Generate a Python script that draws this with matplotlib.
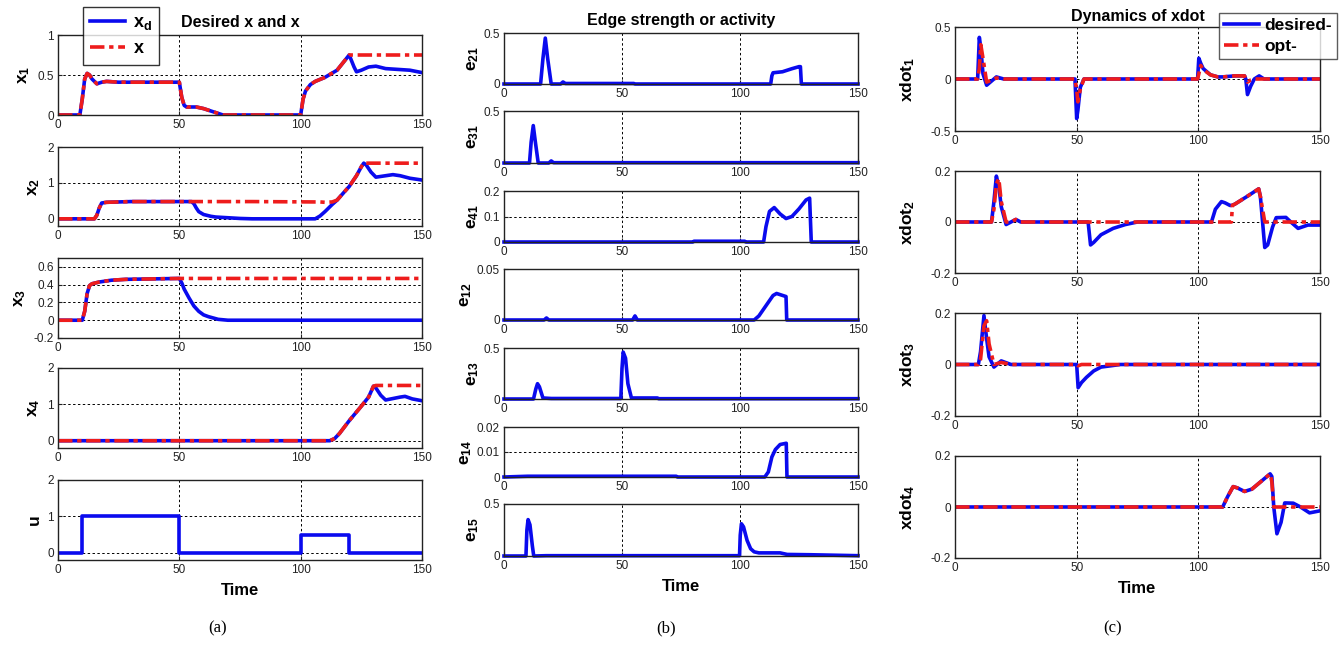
import matplotlib
matplotlib.use("Agg")
import matplotlib.pyplot as plt

plt.rcParams['font.family'] = ['Liberation Sans', 'DejaVu Sans']
plt.rcParams['mathtext.fontset'] = 'custom'
plt.rcParams['mathtext.bf'] = 'Liberation Sans:bold'
plt.rcParams['mathtext.rm'] = 'Liberation Sans'
plt.rcParams['mathtext.it'] = 'Liberation Sans:italic'

# ---------------- data: column (a) ----------------
x1_t = [0, 9, 10, 11, 12, 13, 14, 16, 18, 20, 25, 50, 51, 52, 53, 57, 60, 65, 68, 100, 101, 102, 104, 106, 110, 115, 120, 122, 123, 125, 128, 131, 135, 140, 145, 150]
x1_d = [0, 0, 0.2, 0.45, 0.52, 0.5, 0.45, 0.39, 0.41, 0.42, 0.41, 0.41, 0.22, 0.12, 0.1, 0.1, 0.08, 0.03, 0.0, 0, 0.2, 0.3, 0.38, 0.42, 0.47, 0.56, 0.75, 0.6, 0.54, 0.56, 0.6, 0.61, 0.58, 0.57, 0.56, 0.53]
x1_o = [0, 0, 0.2, 0.45, 0.52, 0.5, 0.45, 0.39, 0.41, 0.42, 0.41, 0.41, 0.22, 0.12, 0.1, 0.1, 0.08, 0.03, 0.0, 0, 0.2, 0.3, 0.38, 0.42, 0.47, 0.56, 0.75, 0.75, 0.75, 0.75, 0.75, 0.75, 0.75, 0.75, 0.75, 0.75]

x2_t = [0, 15, 16, 17, 18, 20, 25, 30, 55, 56, 57, 58, 60, 63, 65, 70, 75, 80, 106, 108, 110, 113, 115, 118, 120, 123, 125, 126, 127, 129, 131, 135, 138, 141, 145, 150]
x2_d = [0, 0, 0.1, 0.3, 0.44, 0.46, 0.47, 0.48, 0.48, 0.42, 0.3, 0.2, 0.12, 0.07, 0.05, 0.03, 0.01, 0.0, 0.0, 0.08, 0.2, 0.4, 0.52, 0.75, 0.9, 1.2, 1.45, 1.55, 1.5, 1.3, 1.16, 1.2, 1.23, 1.2, 1.13, 1.08]
x2_o = [0, 0, 0.1, 0.3, 0.44, 0.46, 0.47, 0.48, 0.48, 0.48, 0.48, 0.48, 0.48, 0.48, 0.48, 0.48, 0.48, 0.48, 0.47, 0.47, 0.46, 0.47, 0.52, 0.75, 0.9, 1.2, 1.45, 1.55, 1.55, 1.55, 1.55, 1.55, 1.55, 1.55, 1.55, 1.55]

x3_t = [0, 10, 11, 12, 13, 14, 17, 22, 28, 50, 51, 52, 54, 56, 58, 60, 62, 66, 70, 150]
x3_d = [0, 0, 0.1, 0.3, 0.39, 0.41, 0.43, 0.45, 0.46, 0.47, 0.42, 0.35, 0.25, 0.16, 0.1, 0.06, 0.04, 0.01, 0, 0]
x3_o = [0, 0, 0.1, 0.3, 0.39, 0.41, 0.43, 0.45, 0.46, 0.47, 0.47, 0.47, 0.47, 0.47, 0.47, 0.47, 0.47, 0.47, 0.47, 0.47]

x4_t = [0, 110, 112, 114, 116, 120, 125, 128, 130, 131, 133, 135, 138, 141, 143, 146, 150]
x4_d = [0, 0, 0, 0.06, 0.2, 0.55, 0.95, 1.2, 1.5, 1.45, 1.25, 1.12, 1.16, 1.2, 1.22, 1.15, 1.1]
x4_o = [0, 0, 0, 0.06, 0.2, 0.55, 0.95, 1.2, 1.5, 1.52, 1.52, 1.52, 1.52, 1.52, 1.52, 1.52, 1.52]

u_t = [0, 10, 50, 100, 120, 150]
u_v = [0, 1, 0, 0.5, 0, 0]

# ---------------- data: column (b) ----------------
e21_t = [0, 15.5, 16.5, 17.5, 18.5, 20, 24, 25, 26, 55, 55.5, 113, 113.5, 114, 118, 122, 125, 125.6, 126, 150]
e21_v = [0, 0, 0.25, 0.45, 0.25, 0, 0, 0.02, 0.005, 0.005, 0, 0, 0.08, 0.11, 0.12, 0.15, 0.17, 0.17, 0, 0]

e31_t = [0, 10.8, 11.5, 12.4, 13.3, 14.5, 19, 20, 21, 150]
e31_v = [0, 0, 0.2, 0.36, 0.2, 0, 0, 0.02, 0.003, 0.003]

e41_t = [0, 80, 80.5, 102, 102.5, 110, 111, 112.5, 114.5, 117, 119.5, 122, 125, 128, 129.5, 130.2, 150]
e41_v = [0, 0, 0.003, 0.003, 0, 0, 0.06, 0.12, 0.135, 0.11, 0.092, 0.1, 0.13, 0.165, 0.172, 0, 0]

e12_t = [0, 17, 18, 19, 54.5, 55.5, 56.5, 106, 108, 111, 114, 115.5, 119.5, 119.8, 150]
e12_v = [0, 0, 0.002, 0, 0, 0.004, 0, 0, 0.004, 0.014, 0.024, 0.026, 0.023, 0, 0]

e13_t = [0, 12.5, 13.5, 14.2, 15, 16.5, 20, 49.5, 50, 50.5, 51.5, 52.5, 54, 57, 65, 65.5, 150]
e13_v = [0, 0, 0.1, 0.15, 0.12, 0.01, 0.005, 0.005, 0.3, 0.46, 0.4, 0.15, 0.01, 0.01, 0.01, 0.003, 0.003]

e14_t = [0, 10, 73, 73.5, 110.5, 112, 113.5, 115, 117, 119.6, 119.9, 150]
e14_v = [0, 0.0003, 0.0003, 0, 0, 0.002, 0.008, 0.011, 0.013, 0.0135, 0, 0]

e15_t = [0, 9.3, 9.7, 10.2, 11, 12, 12.6, 18, 99.8, 100.1, 100.6, 101.5, 103, 104.5, 106, 108, 117, 120, 130, 150]
e15_v = [0, 0, 0.25, 0.35, 0.3, 0.1, 0, 0.003, 0.003, 0.2, 0.31, 0.28, 0.15, 0.07, 0.04, 0.03, 0.03, 0.015, 0.012, 0.003]

# ---------------- data: column (c) ----------------
xd1_t = [0, 9.3, 10, 10.6, 11.5, 13, 15, 17, 20, 49.3, 50, 50.5, 51.5, 53, 99.7, 100.2, 101, 102, 105, 108, 110, 115, 119, 119.5, 120.2, 121.5, 123, 125, 127, 150]
xd1_d = [0, 0, 0.4, 0.3, 0.05, -0.06, -0.02, 0.02, 0, 0, -0.38, -0.3, -0.08, 0, 0, 0.2, 0.15, 0.1, 0.04, 0.02, 0.02, 0.03, 0.03, 0.0, -0.15, -0.07, 0.0, 0.03, 0.0, 0]
xd1_o = [0, 0, 0.1, 0.33, 0.2, -0.03, -0.01, 0.01, 0, 0, -0.1, -0.22, -0.1, 0, 0, 0.05, 0.13, 0.09, 0.04, 0.02, 0.02, 0.03, 0.03, 0.0, -0.03, -0.01, 0.0, 0.0, 0.0, 0]

xd2_t = [0, 15, 16, 17, 18, 19, 21, 23, 25, 27, 54.7, 55.7, 57, 60, 65, 70, 75, 105.4, 107, 109.5, 111, 113, 113.6, 114, 115, 120, 124.8, 125.5, 127.3, 128.5, 130.5, 132, 136, 138, 141, 145, 150]
xd2_d = [0, 0, 0.08, 0.18, 0.14, 0.06, -0.01, 0.0, 0.01, 0, 0, -0.09, -0.08, -0.05, -0.025, -0.01, 0, 0, 0.05, 0.08, 0.075, 0.065, 0.065, 0.066, 0.07, 0.1, 0.13, 0.1, -0.1, -0.09, -0.02, 0.017, 0.018, 0.0, -0.025, -0.012, -0.012]
xd2_o = [0, 0, 0.05, 0.15, 0.17, 0.08, 0.0, 0.0, 0.01, 0, 0, 0, 0, 0, 0, 0, 0, 0, 0, 0, 0, 0, 0.0, 0.066, 0.07, 0.1, 0.13, 0.1, 0.0, 0, 0, 0, 0, 0, 0, 0, 0]

xd3_t = [0, 9.6, 10.5, 11.9, 13, 14, 16, 19, 23, 50, 50.6, 52, 54, 57, 60, 64, 68, 150]
xd3_d = [0, 0, 0.05, 0.19, 0.1, 0.03, -0.01, 0.014, 0, 0, -0.09, -0.07, -0.05, -0.025, -0.01, -0.005, 0, 0]
xd3_o = [0, 0, 0.02, 0.15, 0.17, 0.08, 0.0, 0.008, 0, 0, -0.005, 0, 0, 0, 0, 0, 0, 0]

xd4_t = [0, 110, 112, 114.3, 116, 119, 122, 127, 129.5, 130.2, 131, 132.3, 134, 135.5, 139, 142, 145.7, 150]
xd4_d = [0, 0, 0.04, 0.08, 0.075, 0.061, 0.07, 0.11, 0.13, 0.12, 0.0, -0.105, -0.06, 0.016, 0.015, 0.0, -0.023, -0.015]
xd4_o = [0, 0, 0.04, 0.08, 0.075, 0.061, 0.07, 0.11, 0.13, 0.1, 0.0, 0, 0, 0, 0, 0, 0, 0]

xticks = [0, 50, 100, 150]

# ---------------- figure ----------------
W, H = 1343, 645
fig = plt.figure(figsize=(W / 100, H / 100), dpi=100)

BLUE = '#0a0aee'
RED = '#ee1c1c'
LW = 2.6
DASH = (4.0, 1.3, 1.2, 1.3)


def make_ax(l, r, t, b):
    ax = fig.add_axes([l / W, 1 - b / H, (r - l) / W, (b - t) / H])
    ax.set_xlim(0, 150)
    ax.set_xticks(xticks)
    ax.tick_params(direction='in', length=3, labelsize=8.5, pad=3, colors='#222222')
    ax.grid(True, color='black', linestyle=(0, (2.5, 2.5)), linewidth=0.7)
    ax.set_axisbelow(True)
    for s in ax.spines.values():
        s.set_linewidth(1.0)
        s.set_color('#222222')
    return ax


def ylab(ax, text, pad=4):
    ax.set_ylabel(text, fontsize=12.5, fontweight='bold', labelpad=pad)


# column (a)
la, ra = 58, 422
a_rows = [(35, 115), (147, 226), (258, 338), (368, 448), (480, 560)]
a_data = [(x1_t, x1_d, x1_o, (0, 1), [0, 0.5, 1], r'$\mathbf{x_1}$'),
          (x2_t, x2_d, x2_o, (-0.2, 2), [0, 1, 2], r'$\mathbf{x_2}$'),
          (x3_t, x3_d, x3_o, (-0.2, 0.7), [-0.2, 0, 0.2, 0.4, 0.6], r'$\mathbf{x_3}$'),
          (x4_t, x4_d, x4_o, (-0.2, 2), [0, 1, 2], r'$\mathbf{x_4}$')]
axes_a = []
for (t, b), (tt, dd, oo, yl, yt, lab) in zip(a_rows[:4], a_data):
    ax = make_ax(la, ra, t, b)
    hd, = ax.plot(tt, dd, color=BLUE, lw=LW, solid_joinstyle='round')
    ho, = ax.plot(tt, oo, color=RED, lw=LW, dashes=DASH)
    ax.set_ylim(*yl)
    ax.set_yticks(yt)
    ax.set_yticklabels([('%g' % v) for v in yt])
    ylab(ax, lab)
    axes_a.append((ax, hd, ho))
ax = make_ax(la, ra, *a_rows[4])
ax.plot(u_t, u_v, color=BLUE, lw=LW, drawstyle='steps-post')
ax.set_ylim(-0.2, 2)
ax.set_yticks([0, 1, 2])
ylab(ax, 'u')
ax.set_xlabel('Time', fontsize=12, fontweight='bold', labelpad=5)

ax0, hd0, ho0 = axes_a[0]
ax0.set_title('Desired x and x', fontsize=11.5, fontweight='bold', pad=6)
leg = ax0.legend([hd0, ho0], [r'$\mathbf{x_d}$', r'$\mathbf{x}$'], loc='upper left',
                 bbox_to_anchor=(83 / W, 1 - 7 / H), bbox_transform=fig.transFigure,
                 fontsize=13, frameon=True, fancybox=False, handlelength=1.9,
                 borderpad=0.4, labelspacing=0.45, handletextpad=0.45, borderaxespad=0)
leg.get_frame().set_edgecolor('black')
leg.get_frame().set_linewidth(1.0)

# column (b)
lb, rb = 504, 858
b_rows = [(33, 84), (111, 163), (191, 242), (269, 320), (348, 399), (427, 477), (504, 556)]
b_data = [(e21_t, e21_v, (0, 0.5), [0, 0.5], r'$\mathbf{e_{21}}$'),
          (e31_t, e31_v, (0, 0.5), [0, 0.5], r'$\mathbf{e_{31}}$'),
          (e41_t, e41_v, (0, 0.2), [0, 0.1, 0.2], r'$\mathbf{e_{41}}$'),
          (e12_t, e12_v, (0, 0.05), [0, 0.05], r'$\mathbf{e_{12}}$'),
          (e13_t, e13_v, (0, 0.5), [0, 0.5], r'$\mathbf{e_{13}}$'),
          (e14_t, e14_v, (0, 0.02), [0, 0.01, 0.02], r'$\mathbf{e_{14}}$'),
          (e15_t, e15_v, (0, 0.5), [0, 0.5], r'$\mathbf{e_{15}}$')]
for i, ((t, b), (tt, vv, yl, yt, lab)) in enumerate(zip(b_rows, b_data)):
    ax = make_ax(lb, rb, t, b)
    ax.plot(tt, vv, color=BLUE, lw=LW, clip_on=False)
    ax.set_ylim(*yl)
    ax.set_yticks(yt)
    ax.set_yticklabels([('%g' % v) for v in yt])
    ylab(ax, lab, pad=2)
    if i == 0:
        ax.set_title('Edge strength or activity', fontsize=11.5, fontweight='bold', pad=6)
    if i == len(b_rows) - 1:
        ax.set_xlabel('Time', fontsize=12, fontweight='bold', labelpad=5)

# column (c)
lc, rc = 955, 1320
c_rows = [(27, 131), (171, 273), (313, 416), (456, 558)]
c_data = [(xd1_t, xd1_d, xd1_o, (-0.5, 0.5), [-0.5, 0, 0.5], r'$\mathbf{xdot_1}$'),
          (xd2_t, xd2_d, xd2_o, (-0.2, 0.2), [-0.2, 0, 0.2], r'$\mathbf{xdot_2}$'),
          (xd3_t, xd3_d, xd3_o, (-0.2, 0.2), [-0.2, 0, 0.2], r'$\mathbf{xdot_3}$'),
          (xd4_t, xd4_d, xd4_o, (-0.2, 0.2), [-0.2, 0, 0.2], r'$\mathbf{xdot_4}$')]
for i, ((t, b), (tt, dd, oo, yl, yt, lab)) in enumerate(zip(c_rows, c_data)):
    ax = make_ax(lc, rc, t, b)
    hd, = ax.plot(tt, dd, color=BLUE, lw=LW)
    ho, = ax.plot(tt, oo, color=RED, lw=LW, dashes=DASH)
    ax.set_ylim(*yl)
    ax.set_yticks(yt)
    ax.set_yticklabels([('%g' % v) for v in yt])
    ylab(ax, lab, pad=10)
    if i == 0:
        ax.set_title('Dynamics of xdot', fontsize=11.5, fontweight='bold', pad=4)
        lg = ax.legend([hd, ho], ['desired-', 'opt-'], loc='upper left',
                       bbox_to_anchor=(1219 / W, 1 - 13 / H), bbox_transform=fig.transFigure,
                       prop={'size': 12.5, 'weight': 'bold'}, frameon=True, fancybox=False,
                       handlelength=2.0, borderpad=0.3, labelspacing=0.3,
                       handletextpad=0.3, borderaxespad=0)
        lg.get_frame().set_edgecolor('#333333')
        lg.get_frame().set_linewidth(1.0)
    if i == len(c_rows) - 1:
        ax.set_xlabel('Time', fontsize=12, fontweight='bold', labelpad=5)

for txt, xc in [('(a)', 218), ('(b)', 666), ('(c)', 1113)]:
    fig.text(xc / W, 1 - 628 / H, txt, ha='center', va='center', fontsize=12,
             family='Liberation Serif')

fig.savefig('out.png', dpi=100)
